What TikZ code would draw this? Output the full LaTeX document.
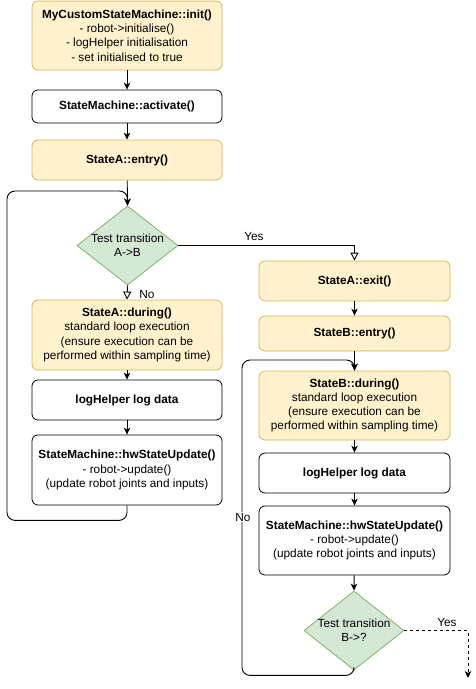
\documentclass[tikz,border=0pt]{standalone}
\usepackage{fontspec}
\setmainfont{Liberation Sans}
\usetikzlibrary{shapes.geometric,arrows.meta}
\definecolor{yfill}{HTML}{FFF2CC}
\definecolor{ydraw}{HTML}{D6B656}
\definecolor{gfill}{HTML}{D5E8D4}
\definecolor{gdraw}{HTML}{82B366}
\begin{document}
\begin{tikzpicture}[x=1pt,y=-1pt,
  every node/.style={font=\fontsize{11.8}{14.2}\selectfont, align=center},
  box/.style={draw=black, fill=white, rounded corners=6pt, line width=0.8pt, minimum width=190pt, inner sep=0pt},
  ybox/.style={box, draw=ydraw, fill=yfill},
  dia/.style={diamond, draw=gdraw, fill=gfill, line width=0.8pt, inner sep=0pt},
  conn/.style={line width=0.9pt, -{Stealth[length=7pt,width=6.5pt,inset=2pt]}},
  oconn/.style={line width=0.9pt, -{Triangle[open,length=8pt,width=8pt]}},
  lbl/.style={font=\fontsize{11.8}{14}\selectfont, inner sep=1pt}
]
\useasboundingbox (0,0) rectangle (476,689);
% left column
\node[ybox, minimum height=69pt] (init) at (127,35.5) {\textbf{MyCustomStateMachine::init()}\\- robot->initialise()\\- logHelper initialisation\\- set initialised to true};
\node[box, minimum height=33pt] (act) at (127,106.5) {\textbf{StateMachine::activate()}};
\node[ybox, minimum height=40pt] (entA) at (127,160) {\textbf{StateA::entry()}};
\node[dia, minimum width=101pt, minimum height=79pt] (dA) at (127.5,245.5) {};
\node (dAt) at (dA.center) {Test transition\\A->B};
\node[ybox, minimum height=70pt] (durA) at (127,335) {\textbf{StateA::during()}\\standard loop execution\\(ensure execution can be\\performed within sampling time)};
\node[box, minimum height=40pt] (logA) at (127,400) {\textbf{logHelper log data}};
\node[box, minimum height=70pt] (hwA) at (127,470) {\textbf{StateMachine::hwStateUpdate()}\\- robot->update()\\(update robot joints and inputs)};
% right column
\node[ybox, minimum width=191pt, minimum height=40pt] (exA) at (354.5,281) {\textbf{StateA::exit()}};
\node[ybox, minimum width=191pt, minimum height=35pt] (entB) at (354.5,333.5) {\textbf{StateB::entry()}};
\node[ybox, minimum width=191pt, minimum height=69pt] (durB) at (354.5,405.5) {\textbf{StateB::during()}\\standard loop execution\\(ensure execution can be\\performed within sampling time)};
\node[box, minimum width=191pt, minimum height=40pt] (logB) at (354.5,473) {\textbf{logHelper log data}};
\node[box, minimum width=191pt, minimum height=69pt] (hwB) at (354.5,540.5) {\textbf{StateMachine::hwStateUpdate()}\\- robot->update()\\(update robot joints and inputs)};
\node[dia, minimum width=100pt, minimum height=79pt] (dB) at (354,630.5) {};
\node (dBt) at (dB.center) {Test transition\\B->?};
\coordinate (yesEnd) at (468,678);
% connectors left
\draw[conn] (init) -- (act);
\draw[conn] (act) -- (entA);
\draw[conn] (entA) -- (dA.north);
\draw[oconn] (dA.east) -| (exA.north);
\node[lbl] at (254,236) {Yes};
\draw[oconn] (dA.south) -- (durA.north);
\node[lbl] at (147,294) {No};
\draw[conn] (durA) -- (logA);
\draw[conn] (logA) -- (hwA);
\draw[conn, rounded corners=8pt] (hwA.south) -- ++(0,15) -| (7,191) -| (dA.north);
% connectors right
\draw[conn] (exA) -- (entB);
\draw[conn] (entB) -- (durB);
\draw[conn] (durB) -- (logB);
\draw[conn] (logB) -- (hwB);
\draw[conn] (hwB) -- (dB.north);
\draw[conn, rounded corners=8pt] (dB.south) -- ++(0,5) -| (242,360) -| (durB.north);
\node[lbl, fill=white] at (243,517) {No};
\draw[conn, dashed] (dB.east) -| (yesEnd);
\node[lbl] at (447,622) {Yes};
\end{tikzpicture}
\end{document}
